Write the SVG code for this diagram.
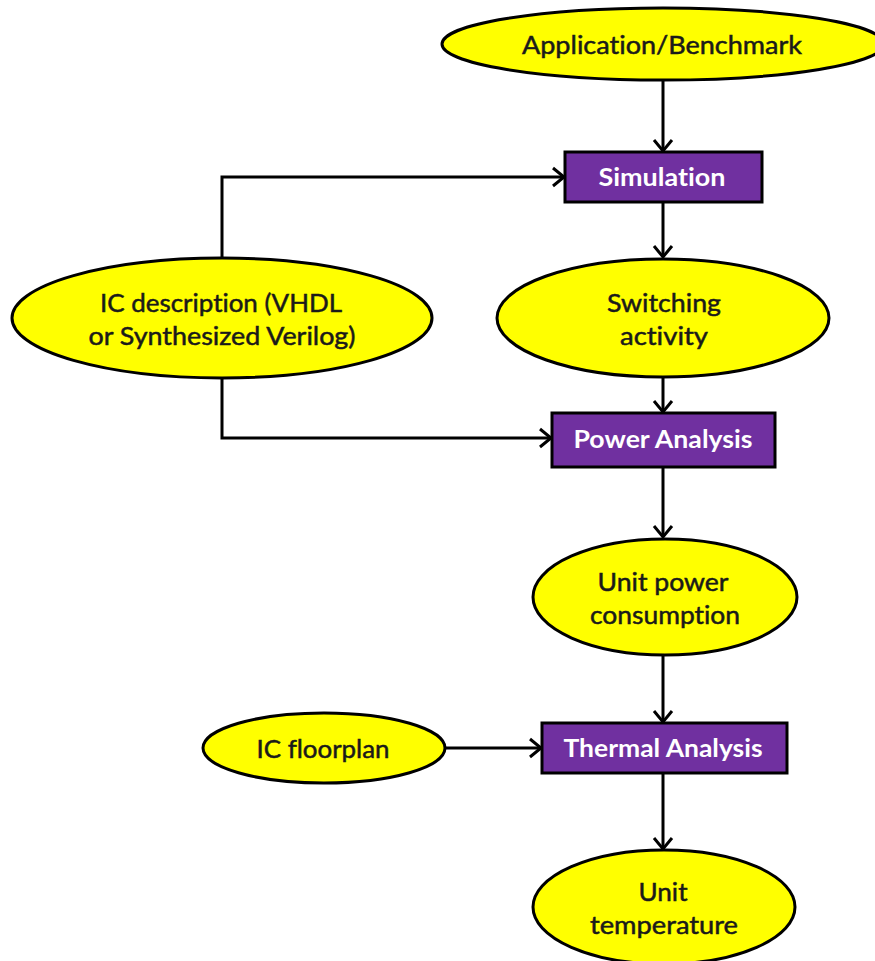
<svg xmlns="http://www.w3.org/2000/svg" width="875" height="961" viewBox="0 0 875 961">
<style>
.ell{fill:#FFFF00;stroke:#000;stroke-width:3}
.box{fill:#7030A0;stroke:#000;stroke-width:3}
.t{font-family:Lato,"Liberation Sans",sans-serif;font-size:25px;fill:#1a1a1a;stroke:#1a1a1a;stroke-width:0.5;text-anchor:middle;font-variant-ligatures:none}
.w{font-family:Lato,"Liberation Sans",sans-serif;font-size:24px;font-weight:bold;fill:#fff;text-anchor:middle;font-variant-ligatures:none}
.c{fill:none;stroke:#000;stroke-width:3}
</style>
<defs>
<marker id="arr" markerUnits="userSpaceOnUse" markerWidth="24" markerHeight="24" viewBox="-14 -12 16 24" refX="0" refY="0" orient="auto">
<path d="M-11,-9 L0,0 L-11,9" fill="none" stroke="#000" stroke-width="3"/>
</marker>
</defs>
<rect width="875" height="961" fill="#fff"/>
<g id="connectors">
<line class="c" x1="663" y1="80" x2="663" y2="151" marker-end="url(#arr)"/>
<path class="c" d="M222,258 V177 H564" marker-end="url(#arr)"/>
<line class="c" x1="663" y1="202" x2="663" y2="257" marker-end="url(#arr)"/>
<line class="c" x1="663" y1="377" x2="663" y2="412" marker-end="url(#arr)"/>
<path class="c" d="M222,378 V438 H551" marker-end="url(#arr)"/>
<line class="c" x1="663" y1="467" x2="663" y2="537" marker-end="url(#arr)"/>
<line class="c" x1="663" y1="655" x2="663" y2="722" marker-end="url(#arr)"/>
<line class="c" x1="445" y1="748" x2="541" y2="748" marker-end="url(#arr)"/>
<line class="c" x1="663" y1="773" x2="663" y2="849" marker-end="url(#arr)"/>
</g>
<g id="app">
<ellipse class="ell" cx="663" cy="44" rx="221" ry="36"/>
<text class="t" x="662" y="54" textLength="280" lengthAdjust="spacingAndGlyphs">Application/Benchmark</text>
</g>
<g id="simulation">
<rect class="box" x="565" y="152" width="197" height="50"/>
<text class="w" x="662" y="186" textLength="127" lengthAdjust="spacingAndGlyphs">Simulation</text>
</g>
<g id="icdesc">
<ellipse class="ell" cx="222" cy="318" rx="210" ry="60"/>
<text class="t" x="221" y="312" textLength="242" lengthAdjust="spacingAndGlyphs">IC description (VHDL</text>
<text class="t" x="222" y="345" textLength="267" lengthAdjust="spacingAndGlyphs">or Synthesized Verilog)</text>
</g>
<g id="switching">
<ellipse class="ell" cx="663" cy="318" rx="166" ry="59"/>
<text class="t" x="664" y="312" textLength="114" lengthAdjust="spacingAndGlyphs">Switching</text>
<text class="t" x="664" y="345" textLength="88" lengthAdjust="spacingAndGlyphs">activity</text>
</g>
<g id="power">
<rect class="box" x="552" y="413" width="223" height="54"/>
<text class="w" x="663" y="448" textLength="179" lengthAdjust="spacingAndGlyphs">Power Analysis</text>
</g>
<g id="unitpower">
<ellipse class="ell" cx="665" cy="597" rx="132" ry="58"/>
<text class="t" x="663" y="591" textLength="131" lengthAdjust="spacingAndGlyphs">Unit power</text>
<text class="t" x="665" y="624" textLength="150" lengthAdjust="spacingAndGlyphs">consumption</text>
</g>
<g id="floorplan">
<ellipse class="ell" cx="324" cy="748" rx="121" ry="35"/>
<text class="t" x="323" y="758" textLength="133" lengthAdjust="spacingAndGlyphs">IC floorplan</text>
</g>
<g id="thermal">
<rect class="box" x="542" y="723" width="245" height="50"/>
<text class="w" x="663" y="757" textLength="199" lengthAdjust="spacingAndGlyphs">Thermal Analysis</text>
</g>
<g id="unittemp">
<ellipse class="ell" cx="664" cy="907" rx="131" ry="57"/>
<text class="t" x="663" y="901" textLength="49" lengthAdjust="spacingAndGlyphs">Unit</text>
<text class="t" x="664" y="934" textLength="148" lengthAdjust="spacingAndGlyphs">temperature</text>
</g>
</svg>
